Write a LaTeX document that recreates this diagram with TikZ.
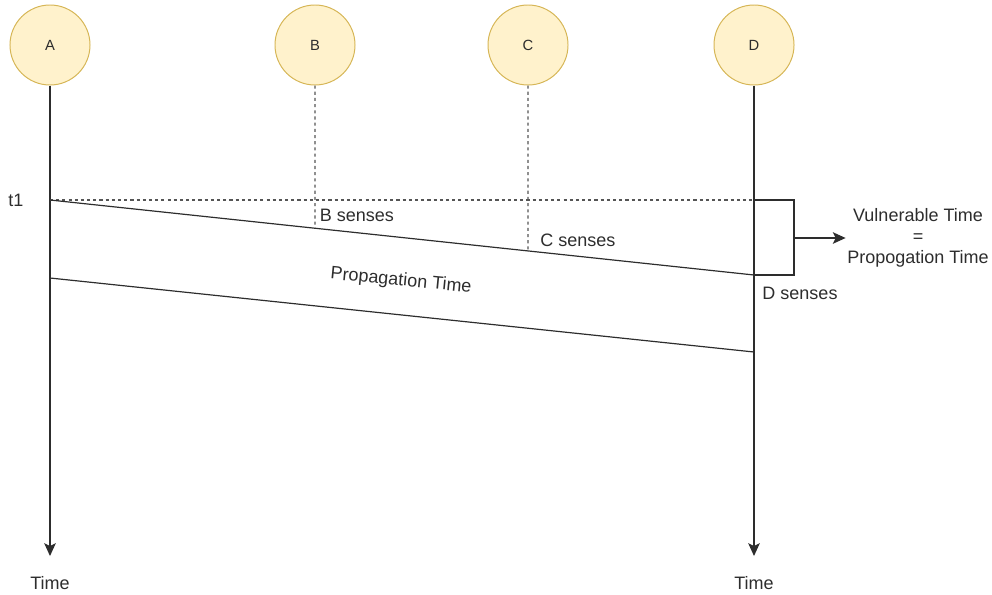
\documentclass[tikz,border=0pt]{standalone}
\usepackage{fontspec}
\setmainfont{Liberation Sans}
\usetikzlibrary{arrows.meta,positioning,calc}
\definecolor{nodefill}{RGB}{255,242,204}
\definecolor{nodeedge}{RGB}{214,182,86}
\definecolor{ln}{RGB}{45,45,45}
\definecolor{dl}{RGB}{85,85,85}
\definecolor{tx}{RGB}{45,45,45}

\begin{document}
\begin{tikzpicture}[x=0.025cm,y=-0.025cm,
    stn/.style={circle,draw=nodeedge,fill=nodefill,line width=0.7pt,minimum size=2cm,inner sep=0pt,font=\fontsize{10.5}{12}\selectfont,text=tx},
    lbl/.style={font=\fontsize{12.8}{15}\selectfont,text=tx,inner sep=1pt},
    tl/.style={draw=ln,line width=0.85pt},
    dot/.style={draw=dl,line width=0.9pt,dash pattern=on 2.2pt off 2.2pt},
    arr/.style={tl,-{Stealth[length=3.2mm,width=2.9mm,inset=0.7mm]}},
]
\useasboundingbox (0,0) rectangle (992,594);

\node[stn] (a) at (50,45) {A};
\node[stn] (b) at (315,45) {B};
\node[stn] (c) at (528,45) {C};
\node[stn] (d) at (754,45) {D};

\node[lbl] (ta) at (50,583) {Time};
\node[lbl] (td) at (754,583) {Time};
\coordinate (ea) at (50,556);
\coordinate (ed) at (754,556);
\draw[arr] (a) -- (ea);
\draw[arr] (d) -- (ed);

\coordinate (t1) at (50,200);
\coordinate (t1d) at (754,200);
\coordinate (sd) at (754,275);
\coordinate (bs) at ($(t1)!0.3764!(sd)$);
\coordinate (cs) at ($(t1)!0.679!(sd)$);
\node[lbl] (t1lbl) at (16,200) {t1};
\draw[dot] (t1) -- (t1d);
\draw[dot] (b) -- (bs);
\draw[dot] (c) -- (cs);
\draw[tl] (t1) -- (sd);

\node[lbl] (bsl) at (357,215) {B senses};
\node[lbl] (csl) at (578,240) {C senses};
\node[lbl] (dsl) at (800,293) {D senses};

\coordinate (k1) at (794,200);
\coordinate (k2) at (794,275);
\coordinate (km) at (794,238);
\draw[tl] (t1d) -- (k1) -- (k2) -- (sd);
\node[lbl,align=center] (vt) at (918,238) {Vulnerable Time\\=\\Propogation Time};
\draw[arr] (km) -- (vt);

\coordinate (p1) at (50,278);
\coordinate (p2) at (754,352);
\draw[tl] (p1) -- (p2);
\node[lbl,rotate=-5.5] (pt) at (401,281) {Propagation Time};
\end{tikzpicture}
\end{document}
